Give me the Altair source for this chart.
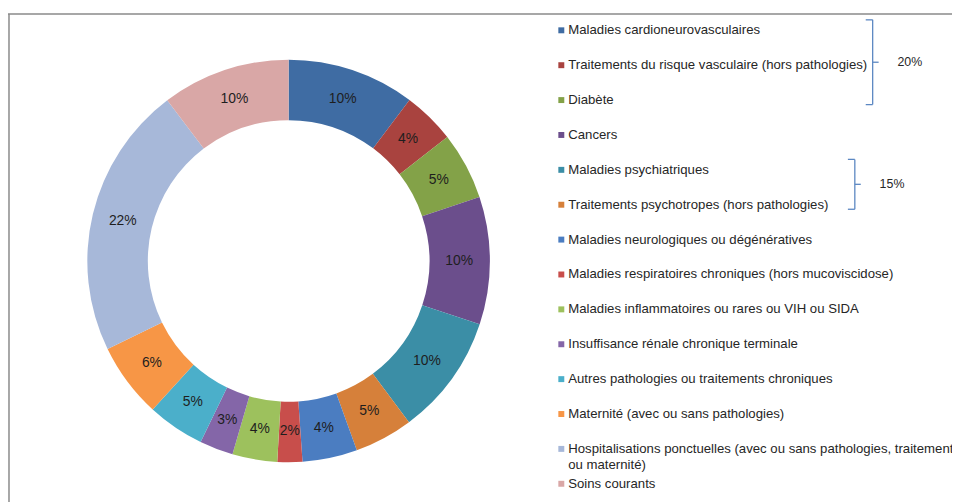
import altair as alt
import pandas as pd

categories = [
    "Maladies cardioneurovasculaires",
    "Traitements du risque vasculaire (hors pathologies)",
    "Diabète",
    "Cancers",
    "Maladies psychiatriques",
    "Traitements psychotropes (hors pathologies)",
    "Maladies neurologiques ou dégénératives",
    "Maladies respiratoires chroniques (hors mucoviscidose)",
    "Maladies inflammatoires ou rares ou VIH ou SIDA",
    "Insuffisance rénale chronique terminale",
    "Autres pathologies ou traitements chroniques",
    "Maternité (avec ou sans pathologies)",
    "Hospitalisations ponctuelles (avec ou sans pathologies, traitements\nou maternité)",
    "Soins courants",
]
shares = [10.25, 4.2, 5.4, 10.25, 9.7, 4.7, 4.4, 2.0, 3.6, 2.7, 4.6, 6.0, 21.9, 10.3]
colors = [
    "#3F6CA3", "#A9433F", "#83A248", "#6B4E8C", "#3B8EA6", "#D6803A",
    "#4B7DC1", "#C84E4B", "#9DC15D", "#8466A8", "#4BAFCA", "#F79646",
    "#A7B8D9", "#D9A7A6",
]
group_labels = ["20%", "15%"]
group_first = [0, 4]
group_last = [2, 5]

FONT = "Liberation Sans"
W, H = 952, 496
CX, CY = 283, 253

df = pd.DataFrame({"cat": categories, "share": shares, "idx": list(range(len(categories)))})
df["label"] = [f"{round(s)}%" for s in shares]

color = alt.Color("cat:N", scale=alt.Scale(domain=categories, range=colors), legend=None)
theta = alt.Theta("share:Q", stack=True)
order = alt.Order("idx:Q")
ysc = alt.Scale(domain=[-0.58, 13.52], reverse=True)

base = alt.Chart(df)

arcs = base.mark_arc(radius=203, radius2=142).encode(
    theta=theta, order=order, color=color, x=alt.value(CX), y=alt.value(CY)
)
pct = base.mark_text(radius=172, font=FONT, fontSize=14, color="#1e1e1e").encode(
    theta=theta, order=order, text="label:N", x=alt.value(CX), y=alt.value(CY)
)

leg_sq = base.mark_square(size=36, opacity=1).encode(
    x=alt.value(558), y=alt.Y("idx:Q", scale=ysc, axis=None), color=color
)
leg_txt = base.mark_text(
    align="left", baseline="middle", font=FONT, fontSize=13.3, color="#262626",
    lineBreak="\n", lineHeight=16
).encode(x=alt.value(565), y=alt.Y("idx:Q", scale=ysc, axis=None), text="cat:N")

layers = [arcs, pct, leg_sq, leg_txt]

bracket_x = [872, 854]
bcol = "#5B87C2"
for i, lab in enumerate(group_labels):
    y0 = group_first[i] - 0.3
    y1 = group_last[i] + 0.13
    ym = (y0 + y1) / 2
    bx = bracket_x[i]
    gdf = pd.DataFrame({"y0": [y0], "y1": [y1], "ym": [ym], "lab": [lab]})
    g = alt.Chart(gdf)
    layers.append(g.mark_rule(color=bcol, strokeWidth=1.3).encode(
        x=alt.value(bx), y=alt.Y("y0:Q", scale=ysc, axis=None), y2="y1:Q"))
    layers.append(g.mark_rule(color=bcol, strokeWidth=1.3).encode(
        x=alt.value(bx - 7), x2=alt.value(bx), y=alt.Y("y0:Q", scale=ysc, axis=None)))
    layers.append(g.mark_rule(color=bcol, strokeWidth=1.3).encode(
        x=alt.value(bx - 7), x2=alt.value(bx), y=alt.Y("y1:Q", scale=ysc, axis=None)))
    layers.append(g.mark_rule(color=bcol, strokeWidth=1.3).encode(
        x=alt.value(bx), x2=alt.value(bx + 6), y=alt.Y("ym:Q", scale=ysc, axis=None)))
    layers.append(g.mark_text(align="left", baseline="middle", font=FONT, fontSize=12.5,
                              color="#262626").encode(
        x=alt.value(bx + 25), y=alt.Y("ym:Q", scale=ysc, axis=None), text="lab:N"))

frame_df = pd.DataFrame({"k": [0]})
frame_top = alt.Chart(frame_df).mark_rule(color="#8a8a8a", strokeWidth=1.5).encode(
    x=alt.value(0), x2=alt.value(W), y=alt.value(4))
frame_left = alt.Chart(frame_df).mark_rule(color="#8a8a8a", strokeWidth=1.5).encode(
    x=alt.value(1), y=alt.value(4), y2=alt.value(H))
layers += [frame_top, frame_left]

chart = alt.layer(*layers).resolve_scale(y="shared").properties(
    width=W, height=H, autosize=alt.AutoSizeParams(type="none"), padding=0
).configure_view(stroke=None)

chart.save("out.html", embed_options={"renderer": "svg", "actions": False})
